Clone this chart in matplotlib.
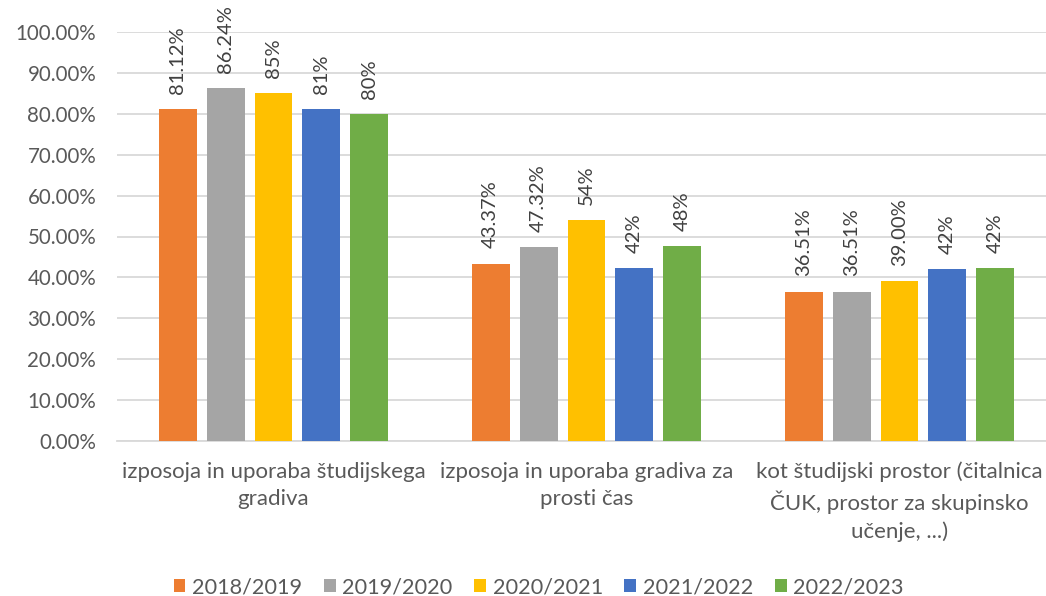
import numpy as np
import matplotlib
matplotlib.use("Agg")
import matplotlib.pyplot as plt
from matplotlib.patches import Patch

plt.rcParams['font.family'] = ['Lato', 'DejaVu Sans']

categories = [
    "izposoja in uporaba študijskega\ngradiva",
    "izposoja in uporaba gradiva za\nprosti čas",
    "kot študijski prostor (čitalnica\nČUK, prostor za skupinsko\nučenje, ...)",
]
series = ["2018/2019", "2019/2020", "2020/2021", "2021/2022", "2022/2023"]
colors = ["#ED7D31", "#A5A5A5", "#FFC000", "#4472C4", "#70AD47"]

# values in percent
v_2018 = [81.12, 43.37, 36.51]
v_2019 = [86.24, 47.32, 36.51]
v_2020 = [85.0, 54.0, 39.0]
v_2021 = [81.2, 42.3, 42.0]
v_2022 = [80.0, 47.6, 42.2]
values = [v_2018, v_2019, v_2020, v_2021, v_2022]

# data labels as printed on the chart
l_2018 = ["81.12%", "43.37%", "36.51%"]
l_2019 = ["86.24%", "47.32%", "36.51%"]
l_2020 = ["85%", "54%", "39.00%"]
l_2021 = ["81%", "42%", "42%"]
l_2022 = ["80%", "48%", "42%"]
labels = [l_2018, l_2019, l_2020, l_2021, l_2022]

yticks = np.arange(0, 101, 10)
ytick_labels = [f"{t:.2f}%" for t in yticks]

fig = plt.figure(figsize=(10.46, 5.96), dpi=100)
ax = fig.add_axes([117 / 1046, 155 / 596, 939 / 1046, 409 / 596])

x = np.arange(len(categories))
step = 0.153
width = 0.121
for i, (name, vals, labs, c) in enumerate(zip(series, values, labels, colors)):
    pos = x + (i - 2) * step
    ax.bar(pos, vals, width, color=c, label=name, zorder=3)
    for px, v, lab in zip(pos, vals, labs):
        ax.annotate(lab, (px, v), xytext=(0, 11), textcoords="offset points",
                    rotation=90, ha="center", va="bottom", fontsize=14.5,
                    color="#404040")

ax.set_xlim(-0.5, 2.5)
ax.set_ylim(0, 100)
ax.set_yticks(yticks)
ax.set_yticklabels(ytick_labels)
ax.set_xticks(x)
ax.set_xticklabels(categories, linespacing=1.42)
ax.tick_params(axis="y", length=0, pad=15, labelsize=14.8, labelcolor="#595959")
ax.tick_params(axis="x", length=0, pad=15, labelsize=16, labelcolor="#595959")
ax.grid(axis="y", color="#d9d9d9", linewidth=1.3, zorder=0)
for s in ["top", "right", "left"]:
    ax.spines[s].set_visible(False)
ax.spines["bottom"].set_color("#d9d9d9")
ax.spines["bottom"].set_linewidth(1.3)

handles = [Patch(facecolor=c, label=n) for n, c in zip(series, colors)]
fig.legend(handles=handles, loc="center", bbox_to_anchor=(0.515, 1 - 587 / 596),
           ncol=5, frameon=False, fontsize=15.6, labelcolor="#595959",
           handlelength=0.55, handleheight=0.55, handletextpad=0.3,
           columnspacing=1.0)

fig.savefig("out.png", dpi=100)
